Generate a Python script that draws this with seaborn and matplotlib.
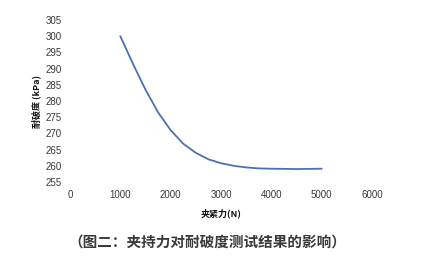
import matplotlib
matplotlib.use("Agg")
import matplotlib.pyplot as plt
import seaborn as sns
import pandas as pd

# Clamping force (N) and bursting strength (kPa)
force = [1000, 1250, 1500, 1750, 2000, 2250, 2500, 2750, 3000, 3250, 3500, 3750, 4000, 4500, 5000]
strength = [300.0, 291.5, 283.5, 276.5, 271.0, 266.8, 264.0, 262.0, 260.8, 260.0, 259.5, 259.2, 259.1, 259.0, 259.1]

x_ticks = [0, 1000, 2000, 3000, 4000, 5000, 6000]
y_ticks = [255, 260, 265, 270, 275, 280, 285, 290, 295, 300, 305]

df = pd.DataFrame({"force": force, "strength": strength})

sns.set_style("white")
plt.rcParams["font.family"] = ["Noto Sans CJK SC", "DejaVu Sans"]

fig = plt.figure(figsize=(4.42, 2.75), dpi=100)
ax = fig.add_axes([70 / 442, 1 - 182 / 275, 302 / 442, 162 / 275])

sns.lineplot(data=df, x="force", y="strength", ax=ax, color="#4a72b0", linewidth=1.3)

ax.set_xlim(0, 6000)
ax.set_ylim(255, 305)
ax.set_xticks(x_ticks)
ax.set_yticks(y_ticks)
ax.set_xticklabels([str(v) for v in x_ticks], fontsize=7, color="#3a3a3a", family="Liberation Sans")
ax.set_yticklabels([str(v) for v in y_ticks], fontsize=7, color="#3a3a3a", family="Liberation Sans")
ax.tick_params(axis="both", length=0, pad=6)
for s in ax.spines.values():
    s.set_visible(False)

ax.set_xlabel("夹紧力(N)", fontsize=6.5, fontweight="bold", color="#111111", labelpad=6)
ax.set_ylabel("耐破度 (kPa)", fontsize=6.5, fontweight="bold", color="#111111", labelpad=3)

fig.text(207 / 442, 1 - 242 / 275, "（图二：夹持力对耐破度测试结果的影响）",
         ha="center", va="center", fontsize=10.5, fontweight="bold", color="#3a3a3a")

fig.savefig("out.png", dpi=100, facecolor="white")
